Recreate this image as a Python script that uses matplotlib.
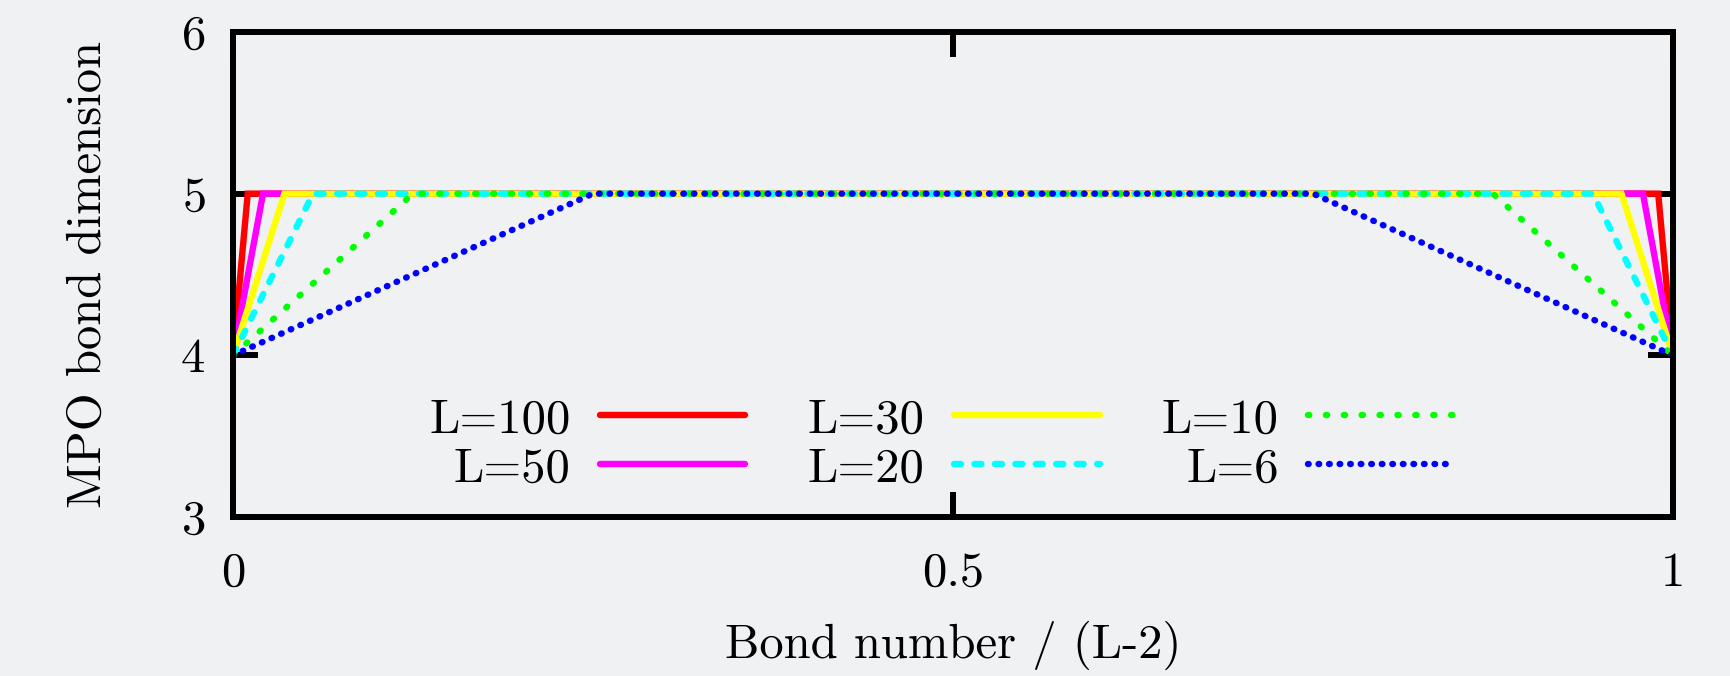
import matplotlib
matplotlib.use("Agg")
import matplotlib.pyplot as plt
import numpy as np

# MPO bond dimension along the chain, one entry per bond (L-1 bonds)
dims_L100 = [4] + [5] * 97 + [4]
dims_L50 = [4] + [5] * 47 + [4]
dims_L30 = [4] + [5] * 27 + [4]
dims_L20 = [4] + [5] * 17 + [4]
dims_L10 = [4, 5, 5, 5, 5, 5, 5, 5, 4]
dims_L6 = [4, 5, 5, 5, 4]

sizes = [100, 50, 30, 20, 10, 6]
series = [dims_L100, dims_L50, dims_L30, dims_L20, dims_L10, dims_L6]
labels = ["L=100", "L=50", "L=30", "L=20", "L=10", "L=6"]
colors = ["#ff0000", "#ff00ff", "#ffff00", "#00ffff", "#00ff00", "#0000ff"]
dashes = [None, None, None, (1.1, 2.1), (0.2, 2.6), (0.1, 1.55)]

x_ticks = [0, 0.5, 1]
x_tick_labels = ["0", "0.5", "1"]
y_ticks = [3, 4, 5, 6]

bg = "#f0f1f3"
fs = 35
plt.rcParams["font.family"] = "cmr10"
plt.rcParams["mathtext.fontset"] = "cm"
plt.rcParams["axes.formatter.use_mathtext"] = True
plt.rcParams["font.size"] = fs

fig = plt.figure(figsize=(17.3, 6.76), dpi=100, facecolor=bg)
ax = fig.add_axes([0.1347, 0.2352, 0.967 - 0.1347, 0.9527 - 0.2352])
ax.set_facecolor(bg)

for L, d, lab, c, ds in zip(sizes, series, labels, colors, dashes):
    x = np.arange(len(d)) / (L - 2)
    line, = ax.plot(x, d, color=c, lw=4.6, label=lab,
                    solid_capstyle="round", dash_capstyle="round",
                    solid_joinstyle="miter")
    if ds is not None:
        line.set_dashes(ds)

ax.set_xlim(0, 1)
ax.set_ylim(3, 6)
ax.set_xticks(x_ticks, x_tick_labels)
ax.set_yticks(y_ticks)
ax.tick_params(direction="in", length=18, width=4.3, top=True, right=True,
               labelsize=fs)
ax.tick_params(axis="x", pad=25)
ax.tick_params(axis="y", pad=20)
for s in ax.spines.values():
    s.set_linewidth(4.3)

ax.set_xlabel("Bond number / (L-2)", fontsize=fs)
ax.xaxis.set_label_coords(0.5, -0.213)
ax.set_ylabel("MPO bond dimension", fontsize=fs)
ax.yaxis.set_label_coords(-0.085, 0.5)

ax.legend(ncol=3, markerfirst=False, frameon=False, loc="center",
          bbox_to_anchor=(0.492, 0.149), handlelength=3.0,
          handletextpad=0.6, columnspacing=1.28, labelspacing=0.1,
          fontsize=fs)

fig.savefig("out.png", dpi=100, facecolor=bg)
